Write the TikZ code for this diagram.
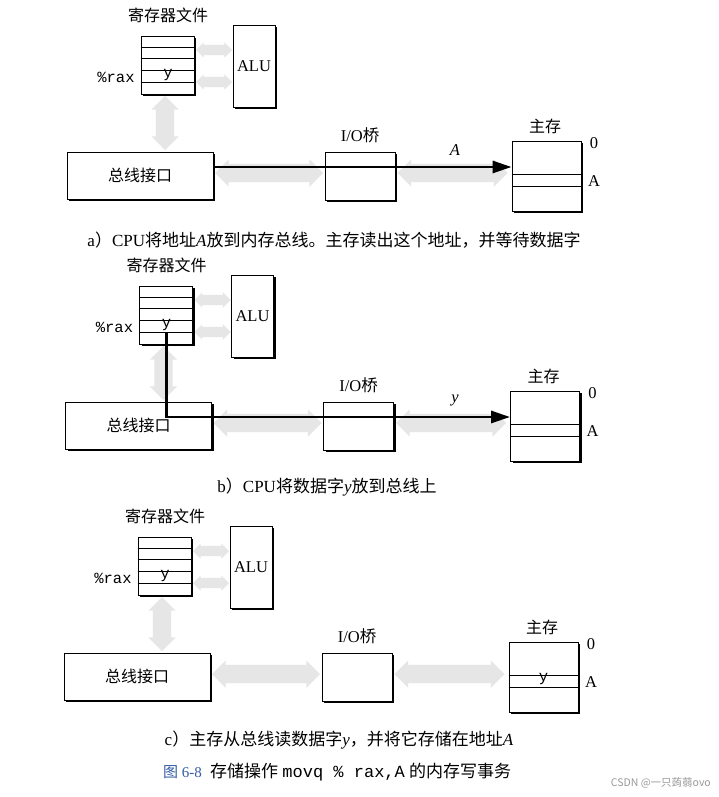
\documentclass[tikz,border=0pt]{standalone}
\usepackage{fontspec}
\setmainfont{Liberation Serif}
\newfontfamily\cjk{Noto Sans CJK SC}
\newfontfamily\monof{Liberation Mono}
\usetikzlibrary{shapes.arrows,arrows.meta}
\definecolor{figblue}{RGB}{52,92,165}
\definecolor{busgray}{RGB}{230,230,230}
\newcommand\zh[1]{{\cjk #1}}
\tikzset{
  box/.style={draw, line width=0.9pt, fill=white, inner sep=0pt,
    preaction={fill=black, transform canvas={xshift=2.2pt, yshift=-2.2pt}}},
  lbl/.style={font=\cjk\fontsize{16}{18}\selectfont, inner sep=1pt},
  latl/.style={font=\fontsize{16.5}{18}\selectfont, inner sep=1pt},
  monol/.style={font=\monof\fontsize{15.5}{17}\selectfont, inner sep=1pt},
  captext/.style={font=\fontsize{17}{20}\selectfont, inner sep=1pt},
  grayarrow/.style={double arrow, fill=busgray, draw=none, inner xsep=0pt,
    inner ysep=#1, double arrow head extend=0.5*#1, minimum width=0pt},
  grayarrow/.default=9pt,
  busline/.style={line width=2.8pt, -{Triangle[length=19pt,width=12pt]}},
  rowline/.style={line width=0.7pt},
}
\newcommand\panel[3]{% #1 prefix, #2 x offset, #3 y offset
\begin{scope}[shift={(#2,#3)}]
  % gray buses
  \node[grayarrow=5pt, minimum height=36pt] (#1g1) at (214,50) {};
  \node[grayarrow=5pt, minimum height=36pt] (#1g2) at (214,82) {};
  \node[grayarrow=9pt, minimum height=54pt, rotate=90] (#1g3) at (165,123) {};
  \node[grayarrow=9pt, minimum height=108pt] (#1g4) at (269,173) {};
  \node[grayarrow=9pt, minimum height=110pt] (#1g5) at (452.5,173) {};
  % register file
  \node[lbl] (#1rft) at (168,15) {寄存器文件};
  \node[box, minimum width=53pt, minimum height=58pt] (#1reg) at (167.5,65) {};
  \foreach \k in {1,...,4}
    \draw[rowline] ([yshift=-\k*11.6pt]#1reg.north west) -- ([yshift=-\k*11.6pt]#1reg.north east);
  \node[monol] (#1rax) at (116,77) {\%rax};
  \node[monol] (#1ry) at (168,75.5) {y};
  % ALU
  \node[box, latl, minimum width=42pt, minimum height=82pt] (#1alu) at (254,66) {ALU};
  % bus interface
  \node[box, lbl, minimum width=146pt, minimum height=47pt] (#1bi) at (140,175.5) {总线接口};
  % I/O bridge
  \node[box, minimum width=70pt, minimum height=48pt] (#1io) at (360,176) {};
  \node[latl] (#1iol) at (360,135) {I/O\zh{桥}};
  % main memory
  \node[box, minimum width=69pt, minimum height=70pt] (#1mem) at (546.5,176) {};
  \draw[rowline] ([yshift=-34pt]#1mem.north west) -- ([yshift=-34pt]#1mem.north east);
  \draw[rowline] ([yshift=-46pt]#1mem.north west) -- ([yshift=-46pt]#1mem.north east);
  \node[lbl] (#1ml) at (545,126) {主存};
  \node[latl] (#1m0) at (594,143) {0};
  \node[latl] (#1mA) at (594,181) {A};
\end{scope}}
\begin{document}
\begin{tikzpicture}[x=1pt,y=-1pt]
\useasboundingbox (0,0) rectangle (719,797);
\fill[white] (0,0) rectangle (719,797);
% panel a
\panel{a}{0}{0}
\draw[busline] ([yshift=8.5pt]abi.east) -- ([yshift=8.5pt]abi.east -| amem.west);
\node[latl, font=\itshape\fontsize{16.5}{18}\selectfont] (aAl) at (455,150) {A};
\node[captext] (capa) at (334,240) {a\zh{）}CPU\zh{将地址}\textit{A}\zh{放到内存总线。主存读出这个地址，并等待数据字}};
% panel b
\panel{b}{-1.5}{250}
\draw[busline] (bry.south) |- ([yshift=8.5pt]bbi.east -| bmem.west);
\node[latl, font=\itshape\fontsize{16.5}{18}\selectfont] (byl) at (455,400) {y};
\node[captext] (capb) at (327,487) {b\zh{）}CPU\zh{将数据字}\textit{y}\zh{放到总线上}};
% panel c
\panel{c}{-3}{501}
\node[monol] (cmy) at (543.5,679.5) {y};
\node[captext] (capc) at (339,740) {c\zh{）主存从总线读数据字}\textit{y}\zh{，并将它存储在地址}\textit{A}};
% title
\node[captext, anchor=west, text=figblue, font=\fontsize{15}{18}\selectfont] (fig) at (162,772) {\zh{图} 6-8};
\node[captext, anchor=west] (title) at (209,772) {\zh{存储操作} {\monof movq \% rax,A} \zh{的内存写事务}};
\node[anchor=east, text=black!40, font=\cjk\fontsize{10.5}{12}\selectfont, inner sep=0pt] (wm) at (711,783) {CSDN @一只蒟蒻ovo};
\end{tikzpicture}
\end{document}
